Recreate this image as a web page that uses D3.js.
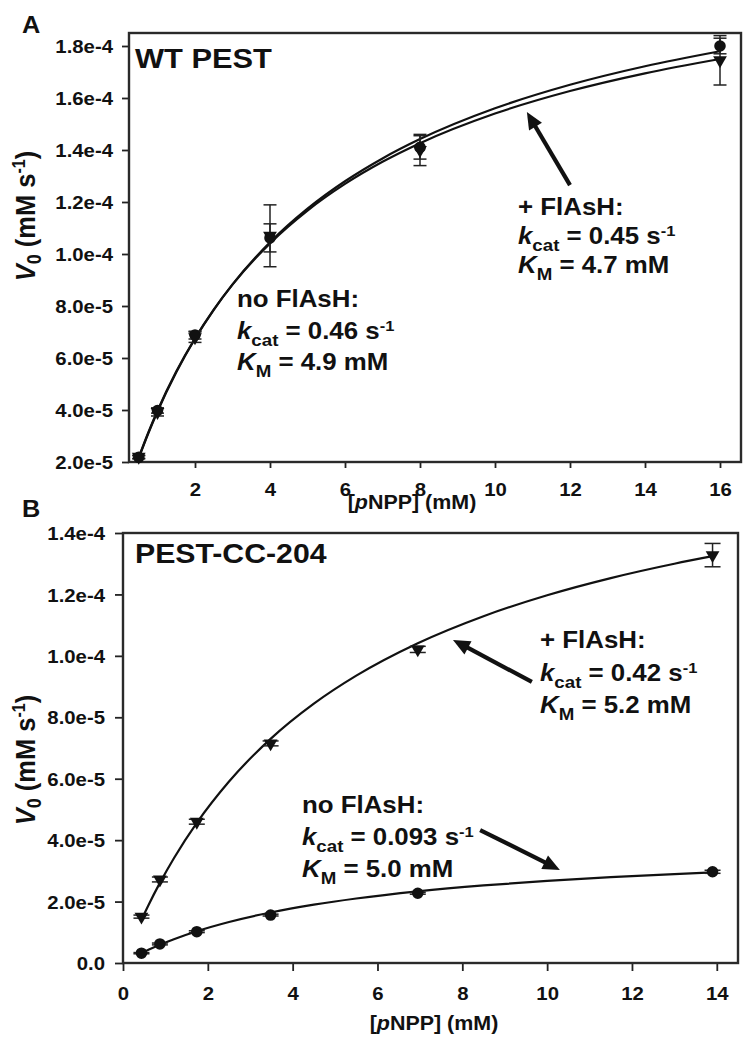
<!DOCTYPE html>
<html>
<head>
<meta charset="utf-8">
<script src="https://cdn.jsdelivr.net/npm/d3@7"></script>
<style>
  html, body { margin: 0; padding: 0; background: #fff; }
  svg { display: block; }
  text { font-family: "Liberation Sans", Arial, sans-serif; font-weight: bold; fill: #111; }
</style>
</head>
<body>
<div id="chart"></div>
<script>
// ---------------- DATA ----------------
// Panel A: WT PEST
const xA = [0.5, 1, 2, 4, 8, 16];
const noFlAsH_A = [2.18e-5, 3.98e-5, 6.88e-5, 1.062e-4, 1.41e-4, 1.80e-4];
const noFlAsH_A_err = [0.06e-5, 0.10e-5, 0.15e-5, 0.054e-4, 0.045e-4, 0.03e-4];
const plusFlAsH_A = [2.20e-5, 3.92e-5, 6.80e-5, 1.07e-4, 1.40e-4, 1.745e-4];
const plusFlAsH_A_err = [0.06e-5, 0.15e-5, 0.20e-5, 0.119e-4, 0.06e-4, 0.095e-4];
// fitted curves
const fitXA = [0.5, 0.75, 1, 1.5, 2, 2.5, 3, 4, 5, 6, 7, 8, 10, 12, 14, 16];
const fitNoA = [2.153e-5, 3.086e-5, 3.941e-5, 5.449e-5, 6.739e-5, 7.855e-5, 8.829e-5, 1.0449e-4, 1.1742e-4, 1.2798e-4, 1.3676e-4, 1.4419e-4, 1.5604e-4, 1.6509e-4, 1.7222e-4, 1.7799e-4];
const fitPlusA = [2.177e-5, 3.116e-5, 3.972e-5, 5.477e-5, 6.758e-5, 7.861e-5, 8.821e-5, 1.0409e-4, 1.1670e-4, 1.2695e-4, 1.3545e-4, 1.4261e-4, 1.5401e-4, 1.6268e-4, 1.6950e-4, 1.7500e-4];
const xTicksA = [2, 4, 6, 8, 10, 12, 14, 16];
const yTicksA = [2e-5, 4e-5, 6e-5, 8e-5, 1.0e-4, 1.2e-4, 1.4e-4, 1.6e-4, 1.8e-4];
const yTickLabelsA = ["2.0e-5", "4.0e-5", "6.0e-5", "8.0e-5", "1.0e-4", "1.2e-4", "1.4e-4", "1.6e-4", "1.8e-4"];

// Panel B: PEST-CC-204
const xB = [0.435, 0.87, 1.74, 3.48, 6.95, 13.9];
const plusFlAsH_B = [1.51e-5, 2.72e-5, 4.60e-5, 7.15e-5, 1.021e-4, 1.328e-4];
const plusFlAsH_B_err = [0.05e-5, 0.08e-5, 0.08e-5, 0.08e-5, 0.10e-5, 0.038e-4];
const noFlAsH_B = [3.2e-6, 6.2e-6, 1.02e-5, 1.56e-5, 2.27e-5, 2.97e-5];
const noFlAsH_B_err = [0.02e-5, 0.03e-5, 0.03e-5, 0.03e-5, 0.03e-5, 0.05e-5];
const fitXB = [0.435, 0.6, 0.87, 1.2, 1.74, 2.5, 3.48, 4.5, 5.5, 6.95, 8.5, 10, 11.5, 13, 13.9];
const fitPlusB = [1.405e-5, 1.883e-5, 2.609e-5, 3.4125e-5, 4.563e-5, 5.909e-5, 7.297e-5, 8.443e-5, 9.355e-5, 1.0411e-4, 1.1292e-4, 1.1974e-4, 1.2533e-4, 1.3000e-4, 1.3245e-4];
const fitNoB = [3.209e-6, 4.296e-6, 5.943e-6, 7.761e-6, 1.0352e-5, 1.3367e-5, 1.6456e-5, 1.8995e-5, 2.1005e-5, 2.3322e-5, 2.5248e-5, 2.6733e-5, 2.7948e-5, 2.8961e-5, 2.9492e-5];
const xTicksB = [0, 2, 4, 6, 8, 10, 12, 14];
const yTicksB = [0, 2e-5, 4e-5, 6e-5, 8e-5, 1.0e-4, 1.2e-4, 1.4e-4];
const yTickLabelsB = ["0.0", "2.0e-5", "4.0e-5", "6.0e-5", "8.0e-5", "1.0e-4", "1.2e-4", "1.4e-4"];

// ---------------- DRAWING ----------------
const W = 750, H = 1050;
const SX = 1.1; // horizontal stretch of the reference typography
const svg = d3.select("#chart").append("svg").attr("width", W).attr("height", H);

function label(parent, x, y, parts, size, anchor, rotate) {
  const t = parent.append("text")
    .attr("transform", rotate ? `translate(${x},${y}) rotate(-90) scale(1,${SX})`
                              : `translate(${x},${y}) scale(${SX},1)`)
    .attr("font-size", size)
    .attr("text-anchor", anchor || "start");
  parts.forEach(p => {
    const ts = t.append("tspan").text(p.t);
    if (p.italic) ts.attr("font-style", "italic");
    if (p.size) ts.attr("font-size", p.size);
    if (p.dy) ts.attr("dy", p.dy);
  });
  return t;
}

function stretchTicks(g) {
  g.selectAll(".tick text").each(function () {
    const s = d3.select(this);
    const x = +s.attr("x") || 0, y = +s.attr("y") || 0;
    s.attr("x", 0).attr("y", 0).attr("transform", `translate(${x},${y}) scale(${SX},1)`);
  });
}

function panel(cfg) {
  const g = svg.append("g").attr("transform", `translate(${cfg.left},${cfg.top})`);
  const x = d3.scaleLinear().domain(cfg.xDomain).range([0, cfg.w]);
  const y = d3.scaleLinear().domain(cfg.yDomain).range([cfg.h, 0]);

  // axes
  const ax = g.append("g").attr("transform", `translate(0,${cfg.h})`)
    .call(d3.axisBottom(x).tickValues(cfg.xTicks).tickSize(cfg.tickX).tickSizeOuter(0).tickPadding(cfg.padX).tickFormat(d3.format("d")));
  const ay = g.append("g")
    .call(d3.axisLeft(y).tickValues(cfg.yTicks).tickSize(cfg.tickY).tickSizeOuter(0).tickPadding(cfg.padY).tickFormat((d, i) => cfg.yLabels[i]));
  [ax, ay].forEach(a => {
    a.select(".domain").remove();
    a.selectAll(".tick line").attr("stroke", "#222").attr("stroke-width", 1.8);
    a.selectAll(".tick text").attr("font-size", 18.5).attr("fill", "#111")
      .attr("font-family", "'Liberation Sans', Arial, sans-serif").attr("font-weight", "bold");
    stretchTicks(a);
  });
  ay.selectAll(".tick text").attr("dy", "0.36em");

  // frame
  g.append("rect").attr("x", 0).attr("y", 0).attr("width", cfg.w).attr("height", cfg.h)
    .attr("fill", "none").attr("stroke", "#2a2a2a").attr("stroke-width", 2.4);

  // fit curves
  const line = d3.line().x(d => x(d[0])).y(d => y(d[1])).curve(d3.curveMonotoneX);
  cfg.fits.forEach(f => {
    g.append("path").datum(f.xs.map((v, i) => [v, f.ys[i]]))
      .attr("d", line).attr("fill", "none").attr("stroke", "#111").attr("stroke-width", 2.2);
  });

  // error bars
  cfg.series.forEach(s => {
    s.xs.forEach((xv, i) => {
      const e = s.err[i], v = s.ys[i];
      const px = x(xv), y1 = y(v - e), y2 = y(v + e);
      const eb = g.append("g").attr("stroke", "#222").attr("stroke-width", 1.5);
      eb.append("line").attr("x1", px).attr("x2", px).attr("y1", y1).attr("y2", y2);
      eb.append("line").attr("x1", px - cfg.capW / 2).attr("x2", px + cfg.capW / 2).attr("y1", y1).attr("y2", y1);
      eb.append("line").attr("x1", px - cfg.capW / 2).attr("x2", px + cfg.capW / 2).attr("y1", y2).attr("y2", y2);
    });
  });

  // markers
  cfg.series.forEach(s => {
    const sym = s.shape === "circle"
      ? d3.symbol().type(d3.symbolCircle).size(105)
      : d3.symbol().type(d3.symbolTriangle).size(82);
    g.selectAll(null).data(s.xs.map((v, i) => [v, s.ys[i]])).enter().append("path")
      .attr("d", sym)
      .attr("transform", d => `translate(${x(d[0])},${y(d[1])})` + (s.shape === "circle" ? "" : " rotate(180)"))
      .attr("fill", "#111");
  });

  // arrows (data coordinates)
  cfg.arrows.forEach(a => {
    const x1 = x(a[0]), y1 = y(a[1]), x2 = x(a[2]), y2 = y(a[3]);
    const dx = x2 - x1, dy = y2 - y1, L = Math.hypot(dx, dy);
    const ux = dx / L, uy = dy / L, hl = 17, hw = 7.5;
    const bx = x2 - ux * hl, by = y2 - uy * hl;
    g.append("line").attr("x1", x1).attr("y1", y1).attr("x2", bx + ux * 2).attr("y2", by + uy * 2)
      .attr("stroke", "#111").attr("stroke-width", 4.2);
    g.append("path").attr("d", `M${x2},${y2}L${bx - uy * hw},${by + ux * hw}L${bx + uy * hw},${by - ux * hw}Z`)
      .attr("fill", "#111");
  });
  return { g, x, y };
}

// Panel A
panel({
  left: 129, top: 33, w: 612, h: 429,
  xDomain: [0.24, 16.56], yDomain: [2e-5, 1.85e-4],
  xTicks: xTicksA, yTicks: yTicksA, yLabels: yTickLabelsA,
  tickX: 6, padX: 15, tickY: 7, padY: 9, capW: 13,
  fits: [{ xs: fitXA, ys: fitNoA }, { xs: fitXA, ys: fitPlusA }],
  series: [
    { xs: xA, ys: plusFlAsH_A, err: plusFlAsH_A_err, shape: "triangle" },
    { xs: xA, ys: noFlAsH_A, err: noFlAsH_A_err, shape: "circle" }
  ],
  arrows: [[12.0, 1.265e-4, 10.85, 1.546e-4]]
});

// Panel B
panel({
  left: 123, top: 533, w: 615, h: 430,
  xDomain: [0, 14.5], yDomain: [0, 1.4e-4],
  xTicks: xTicksB, yTicks: yTicksB, yLabels: yTickLabelsB,
  tickX: 8, padX: 16, tickY: 8, padY: 10, capW: 16,
  fits: [{ xs: fitXB, ys: fitPlusB }, { xs: fitXB, ys: fitNoB }],
  series: [
    { xs: xB, ys: plusFlAsH_B, err: plusFlAsH_B_err, shape: "triangle" },
    { xs: xB, ys: noFlAsH_B, err: noFlAsH_B_err, shape: "circle" }
  ],
  arrows: [[9.64, 9.15e-5, 7.78, 1.052e-4], [8.42, 4.33e-5, 10.30, 3.03e-5]]
});

// ---------------- TEXT ----------------
const T = svg.append("g");
// panel letters
label(T, 22, 33, [{ t: "A" }], 23);
label(T, 22, 517, [{ t: "B" }], 23);
// panel titles
label(T, 135, 68, [{ t: "WT PEST" }], 28);
label(T, 135, 563, [{ t: "PEST-CC-204" }], 27.5);

// axis titles
function yTitle(x, y) {
  label(T, x, y, [
    { t: "V", italic: true }, { t: "0", size: 18, dy: 5 }, { t: " (mM s", dy: -5 },
    { t: "-1", size: 16, dy: -9 }, { t: ")", dy: 9 }
  ], 25.5, "middle", true);
}
function xTitle(x, y) {
  label(T, x, y, [{ t: "[" }, { t: "p", italic: true }, { t: "NPP] (mM)" }], 19.5, "middle");
}
yTitle(35, 216);
yTitle(35, 760);
xTitle(412, 509);
xTitle(434, 1030);

// kinetic annotations
function annot(x, ys, head, kcat, km) {
  label(T, x, ys[0], [{ t: head }], 23.5);
  label(T, x, ys[1], [
    { t: "k", italic: true }, { t: "cat", size: 17, dy: 7 }, { t: " = " + kcat + " s", dy: -7 },
    { t: "-1", size: 15, dy: -8 }
  ], 23.5);
  label(T, x, ys[2], [
    { t: "K", italic: true }, { t: "M", size: 17, dy: 7 }, { t: " = " + km + " mM", dy: -7 }
  ], 23.5);
}
annot(518, [215, 244, 273], "+ FlAsH:", "0.45", "4.7");
annot(237, [307, 339, 370], "no FlAsH:", "0.46", "4.9");
annot(540, [648, 681, 713], "+ FlAsH:", "0.42", "5.2");
annot(302, [813, 845, 877], "no FlAsH:", "0.093", "5.0");
</script>
</body>
</html>
